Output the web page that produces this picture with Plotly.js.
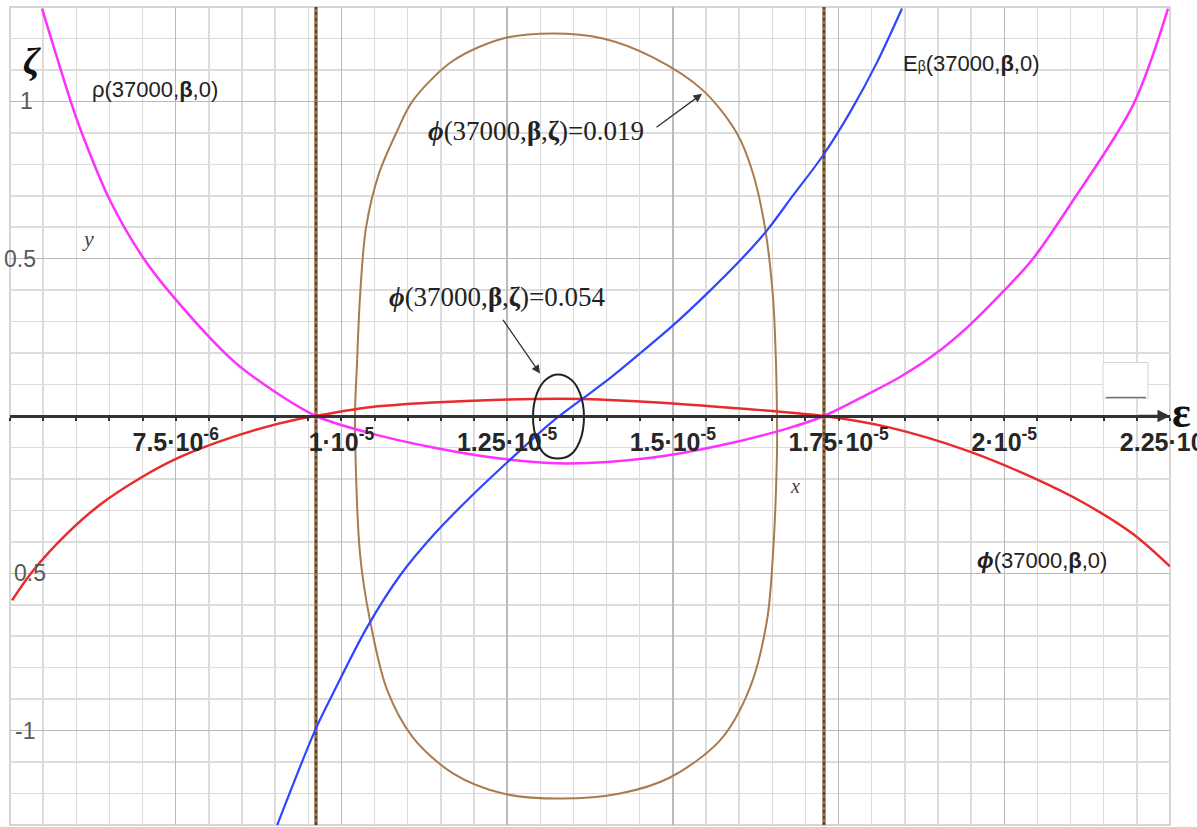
<!DOCTYPE html>
<html>
<head>
<meta charset="utf-8">
<script src="https://cdn.plot.ly/plotly-3.0.1.min.js"></script>
<style>
html,body{margin:0;padding:0;background:#ffffff;}
#plot{width:1197px;height:827px;}
</style>
</head>
<body>
<div id="plot"></div>
<script>
// ---------- data ----------
// rho(37000, beta, 0) - magenta
const rhoX = [5.483e-6, 5.935e-6, 6.086e-6, 6.509e-6, 7.006e-6, 7.489e-6, 8.364e-6, 8.968e-6, 9.616e-6,
  1.0386e-5, 1.1381e-5, 1.2392e-5, 1.3403e-5, 1.4700e-5, 1.5711e-5, 1.6722e-5, 1.7280e-5, 1.7929e-5,
  1.8427e-5, 1.8925e-5, 1.9438e-5, 1.9981e-5, 2.0433e-5, 2.1037e-5, 2.1942e-5, 2.2470e-5];
const rhoY = [1.295, 0.988, 0.898, 0.685, 0.504, 0.373, 0.176, 0.081, 0,
  -0.052, -0.100, -0.135, -0.151, -0.132, -0.094, -0.040, 0, 0.068,
  0.124, 0.192, 0.281, 0.395, 0.500, 0.685, 0.988, 1.295];

// phi(37000, beta, 0) - red
const phiX = [5.030e-6, 5.347e-6, 5.860e-6, 6.358e-6, 6.961e-6, 7.519e-6, 8.123e-6, 8.772e-6, 9.375e-6, 9.616e-6,
  1.0386e-5, 1.1381e-5, 1.2392e-5, 1.3644e-5, 1.5002e-5, 1.6013e-5, 1.7280e-5,
  1.8276e-5, 1.9438e-5, 2.0433e-5, 2.1188e-5, 2.1942e-5, 2.25e-5];
const phiY = [-0.586, -0.492, -0.374, -0.282, -0.198, -0.135, -0.084, -0.040, -0.009, 0,
  0.027, 0.043, 0.052, 0.054, 0.040, 0.024, 0,
  -0.037, -0.110, -0.196, -0.275, -0.375, -0.478];

// E_beta(37000, beta, 0) - blue
const ebX = [9.028e-6, 9.601e-6, 9.873e-6, 1.0386e-5, 1.0884e-5, 1.1412e-5, 1.1940e-5, 1.2498e-5, 1.3147e-5,
  1.3644e-5, 1.4007e-5, 1.4504e-5, 1.5002e-5, 1.5515e-5, 1.6013e-5, 1.6420e-5, 1.6813e-5, 1.7265e-5,
  1.7672e-5, 1.8080e-5, 1.8457e-5];
const ebY = [-1.302, -1.000, -0.882, -0.672, -0.507, -0.373, -0.259, -0.148, -0.024,
  0.056, 0.113, 0.199, 0.288, 0.389, 0.494, 0.590, 0.701, 0.828,
  0.965, 1.124, 1.295];

// contour phi(37000, beta, zeta) = 0.019 - brown closed curve
const c019X = [1.0205e-5, 1.0235e-5, 1.0280e-5, 1.0371e-5, 1.0567e-5, 1.0823e-5, 1.1080e-5, 1.1683e-5, 1.2438e-5,
  1.3192e-5, 1.3946e-5, 1.4700e-5, 1.5455e-5, 1.5968e-5, 1.6209e-5, 1.6390e-5, 1.6511e-5, 1.6556e-5,
  1.6571e-5, 1.6571e-5, 1.6511e-5, 1.6420e-5, 1.6164e-5, 1.5711e-5, 1.4957e-5, 1.4203e-5, 1.3297e-5,
  1.2438e-5, 1.1683e-5, 1.1080e-5, 1.0688e-5, 1.0431e-5, 1.0280e-5, 1.0205e-5];
const c019Y = [-0.005, 0.167, 0.377, 0.599, 0.771, 0.898, 1.003, 1.129, 1.200,
  1.216, 1.200, 1.140, 1.035, 0.898, 0.771, 0.599, 0.377, 0.167,
  -0.005, -0.119, -0.437, -0.650, -0.863, -1.031, -1.149, -1.200, -1.216,
  -1.200, -1.136, -1.022, -0.870, -0.650, -0.437, -0.005];

// contour phi(37000, beta, zeta) = 0.054 - black small closed curve
const c054X = [1.2890e-5, 1.2950e-5, 1.3086e-5, 1.3267e-5, 1.3463e-5, 1.3599e-5, 1.3659e-5,
  1.3599e-5, 1.3463e-5, 1.3267e-5, 1.3071e-5, 1.2950e-5, 1.2890e-5];
const c054Y = [-0.002, 0.072, 0.116, 0.132, 0.116, 0.072, -0.002,
  -0.078, -0.122, -0.135, -0.122, -0.078, -0.002];

// vertical markers (roots of phi(37000,beta,0))
const rootX = [9.616e-6, 1.7280e-5];

// axes
const xRange = [5e-6, 2.25e-5];
const yRange = [-1.3, 1.3];
const xTickVals = [7.5e-6, 1e-5, 1.25e-5, 1.5e-5, 1.75e-5, 2e-5, 2.25e-5];
const xTickText = ['7.5·10<sup>-6</sup>', '1·10<sup>-5</sup>', '1.25·10<sup>-5</sup>', '1.5·10<sup>-5</sup>',
  '1.75·10<sup>-5</sup>', '2·10<sup>-5</sup>', '2.25·10<sup>-5</sup>'];
const yTickVals = [1, 0.5, -0.5, -1];
const yTickText = ['1', '0.5', '0.5', '-1'];

// ---------- styling ----------
const yTickShift = [8, -8, 2, 3];
const sans = 'Liberation Sans, Arial, Helvetica, sans-serif';
const serif = 'Liberation Serif, Times New Roman, DejaVu Serif, serif';
const SM = 0.9;

const traces = [];
rootX.forEach(function (rx) {
  traces.push({x: [rx, rx], y: yRange, mode: 'lines', line: {color: '#9c7248', width: 3.5}, hoverinfo: 'skip'});
  traces.push({x: [rx, rx], y: yRange, mode: 'lines', line: {color: '#3e2c1a', width: 1.4, dash: 'dot'}, hoverinfo: 'skip'});
});
traces.push({x: c019X, y: c019Y, mode: 'lines', line: {color: '#a87c50', width: 2, shape: 'spline', smoothing: SM}});
traces.push({x: rhoX, y: rhoY, mode: 'lines', line: {color: '#ff30ff', width: 2.5, shape: 'spline', smoothing: SM}});
traces.push({x: phiX, y: phiY, mode: 'lines', line: {color: '#ea2b2b', width: 2.5, shape: 'spline', smoothing: SM}});
traces.push({x: ebX, y: ebY, mode: 'lines', line: {color: '#2f45ff', width: 2.2, shape: 'spline', smoothing: SM}});
traces.push({x: c054X, y: c054Y, mode: 'lines', line: {color: '#222222', width: 2, shape: 'spline', smoothing: 1.2}});

const annotations = [];
yTickVals.forEach(function (v, i) {
  annotations.push({xref: 'paper', yref: 'y', x: 0, y: v, xanchor: 'left', yanchor: 'middle',
    xshift: yTickShift[i], text: yTickText[i], showarrow: false,
    font: {family: sans, size: 23, color: '#5a5a5a'}});
});
// axis symbols
annotations.push({xref: 'paper', yref: 'paper', x: 0.0095, y: 0.962, text: '<b><i>ζ</i></b>', showarrow: false,
  font: {family: serif, size: 38, color: '#111111'}});
annotations.push({xref: 'paper', yref: 'paper', x: 1.0, y: 0.504, xanchor: 'left', xshift: 0, text: '<b>ε</b>', showarrow: false,
  font: {family: serif, size: 44, color: '#111111'}});
// curve labels
annotations.push({x: 7.188e-6, y: 1.038, text: 'ρ(37000,<b>β</b>,0)', showarrow: false,
  font: {family: sans, size: 22, color: '#222222'}});
annotations.push({x: 1.9498e-5, y: 1.120, text: 'E<span style="font-size:14px">β</span>(37000,<b>β</b>,0)', showarrow: false,
  font: {family: sans, size: 22, color: '#222222'}});
annotations.push({x: 2.0569e-5, y: -0.459, text: '<b><i>ϕ</i></b>(37000,<b>β</b>,0)', showarrow: false,
  font: {family: sans, size: 22, color: '#222222'}});
annotations.push({x: 1.2935e-5, y: 0.907, text: '<b><i>ϕ</i></b>(37000,<b>β</b>,<b>ζ</b>)=0.019', showarrow: false,
  font: {family: serif, size: 27, color: '#222222'}});
annotations.push({x: 1.2347e-5, y: 0.377, text: '<b><i>ϕ</i></b>(37000,<b>β</b>,<b>ζ</b>)=0.054', showarrow: false,
  font: {family: serif, size: 27, color: '#222222'}});
annotations.push({x: 6.177e-6, y: 0.564, text: '<i>y</i>', showarrow: false,
  font: {family: serif, size: 22, color: '#444444'}});
annotations.push({x: 1.6843e-5, y: -0.221, text: '<i>x</i>', showarrow: false,
  font: {family: serif, size: 20, color: '#444444'}});
// arrows
annotations.push({x: 1.5440e-5, y: 1.024, ax: 1.4731e-5, ay: 0.914, axref: 'x', ayref: 'y', text: '',
  showarrow: true, arrowhead: 2, arrowsize: 1.3, arrowwidth: 1.3, arrowcolor: '#333333'});
annotations.push({x: 1.2996e-5, y: 0.135, ax: 1.2422e-5, ay: 0.310, axref: 'x', ayref: 'y', text: '',
  showarrow: true, arrowhead: 2, arrowsize: 1.3, arrowwidth: 1.3, arrowcolor: '#333333'});
// x-axis arrow
annotations.push({x: xRange[1], y: 0, ax: 2.2e-5, ay: 0, axref: 'x', ayref: 'y', text: '',
  showarrow: true, arrowhead: 2, arrowsize: 1, arrowwidth: 2.5, arrowcolor: '#333333'});

const layout = {
  width: 1197, height: 827,
  margin: {l: 10, r: 27, t: 7, b: 2, pad: 0},
  paper_bgcolor: '#ffffff', plot_bgcolor: '#ffffff',
  showlegend: false,
  xaxis: {
    range: xRange, anchor: 'free', position: 0.5, automargin: false,
    showline: true, linecolor: '#333333', linewidth: 2.5,
    tickmode: 'array', tickvals: xTickVals, ticktext: xTickText,
    ticks: 'outside', ticklen: 3, tickwidth: 2, tickcolor: '#333333',
    ticklabelstandoff: 0, ticklabeloverflow: 'allow',
    tickfont: {family: sans, size: 25, color: '#262626', weight: 'bold'},
    showgrid: true, gridcolor: '#bababa', gridwidth: 1.5, zeroline: false,
    minor: {tick0: 5e-6, dtick: 5e-7, showgrid: true, gridcolor: '#dcdcdc', gridwidth: 1.5,
      ticks: 'outside', ticklen: 3, tickwidth: 2, tickcolor: '#333333'}
  },
  yaxis: {
    range: yRange, automargin: false, showticklabels: false, ticks: '',
    tick0: 0, dtick: 0.5, showgrid: true, gridcolor: '#bababa', gridwidth: 1.5,
    zeroline: false, showline: false,
    minor: {tick0: 0, dtick: 0.1, showgrid: true, gridcolor: '#dcdcdc', gridwidth: 1.5}
  },
  shapes: [
    {type: 'rect', xref: 'paper', yref: 'paper', x0: 0, x1: 1, y0: 0, y1: 1, line: {color: '#c8c8c8', width: 1.5}, layer: 'below'},
    {type: 'rect', xref: 'x', yref: 'y', x0: 2.1489e-5, x1: 2.2168e-5, y0: 0.056, y1: 0.170,
      line: {color: '#d4d4d4', width: 1}, fillcolor: '#ffffff'},
    {type: 'line', xref: 'x', yref: 'y', x0: 2.1534e-5, x1: 2.2137e-5, y0: 0.059, y1: 0.059,
      line: {color: '#777777', width: 1.5}}
  ],
  annotations: annotations
};

Plotly.newPlot('plot', traces, layout, {staticPlot: true, displayModeBar: false});
</script>
</body>
</html>
